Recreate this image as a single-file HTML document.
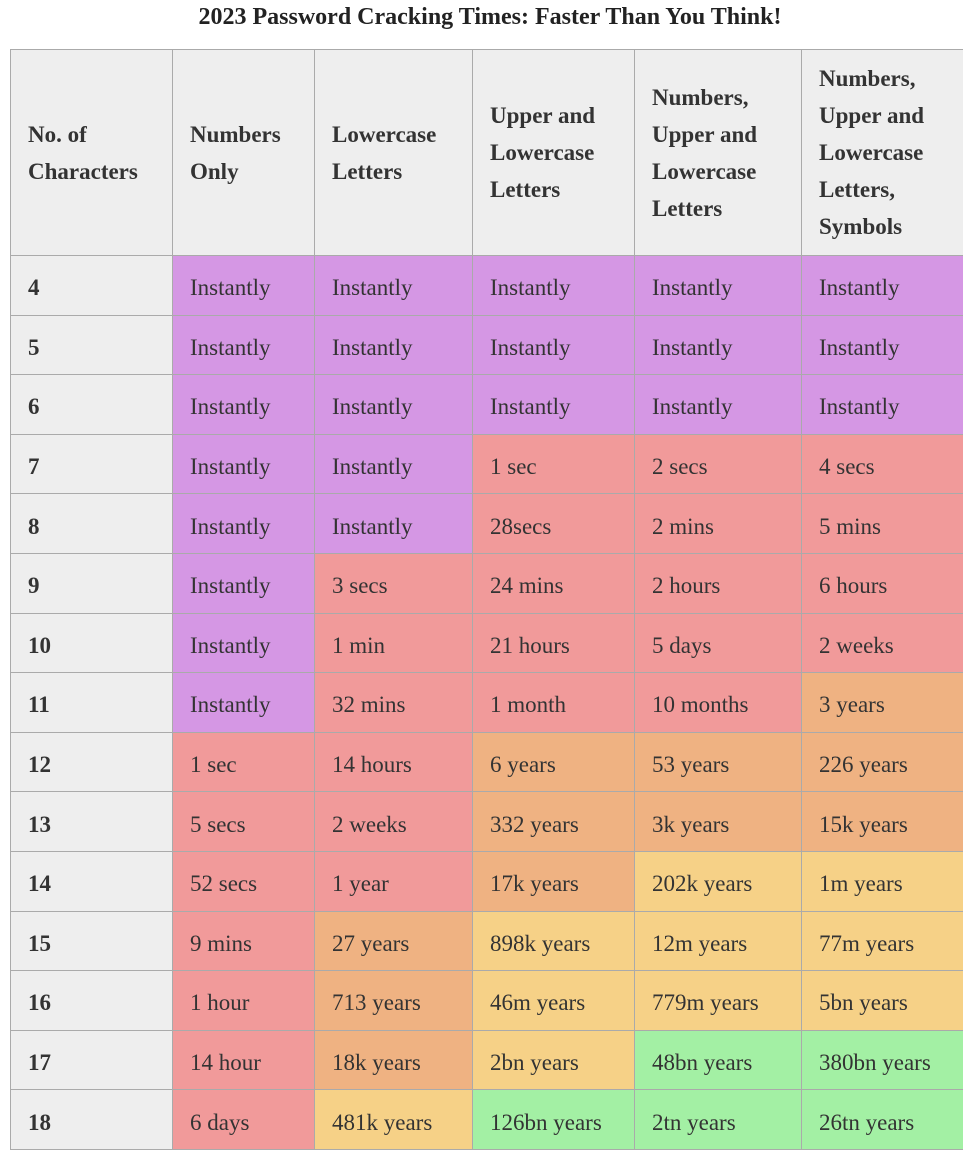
<!DOCTYPE html>
<html><head><meta charset="utf-8"><style>
body{margin:0;background:#fff;width:963px;height:1149px;overflow:hidden;font-family:"Liberation Serif",serif;color:#333}
h1{position:absolute;top:4px;left:0;width:980px;text-align:center;margin:0;font-size:24px;font-weight:bold;color:#222}
table{position:absolute;left:10px;top:49px;border-collapse:collapse;table-layout:fixed;width:960px}
td,th{border:1px solid #aaa;padding:0 0 0 17px;font-size:23px;text-align:left;vertical-align:middle;box-sizing:border-box}
th{background:#eee;font-weight:bold;height:206px;line-height:37px;color:#333}
td{padding-top:6px;height:59.6px}
td.n{background:#eee;font-weight:bold}
.P{background:#d597e4}.R{background:#f19a9a}.O{background:#efb282}.Y{background:#f6d187}.G{background:#a3f0a4}
</style></head><body>
<h1>2023 Password Cracking Times: Faster Than You Think!</h1>
<table>
<colgroup><col style="width:162px"><col style="width:142px"><col style="width:158px"><col style="width:162px"><col style="width:167px"><col style="width:169px"></colgroup>
<tr><th>No. of<br>Characters</th><th>Numbers<br>Only</th><th>Lowercase<br>Letters</th><th>Upper and<br>Lowercase<br>Letters</th><th>Numbers,<br>Upper and<br>Lowercase<br>Letters</th><th>Numbers,<br>Upper and<br>Lowercase<br>Letters,<br>Symbols</th></tr>
<tr><td class="n">4</td><td class="P">Instantly</td><td class="P">Instantly</td><td class="P">Instantly</td><td class="P">Instantly</td><td class="P">Instantly</td></tr>
<tr><td class="n">5</td><td class="P">Instantly</td><td class="P">Instantly</td><td class="P">Instantly</td><td class="P">Instantly</td><td class="P">Instantly</td></tr>
<tr><td class="n">6</td><td class="P">Instantly</td><td class="P">Instantly</td><td class="P">Instantly</td><td class="P">Instantly</td><td class="P">Instantly</td></tr>
<tr><td class="n">7</td><td class="P">Instantly</td><td class="P">Instantly</td><td class="R">1 sec</td><td class="R">2 secs</td><td class="R">4 secs</td></tr>
<tr><td class="n">8</td><td class="P">Instantly</td><td class="P">Instantly</td><td class="R">28secs</td><td class="R">2 mins</td><td class="R">5 mins</td></tr>
<tr><td class="n">9</td><td class="P">Instantly</td><td class="R">3 secs</td><td class="R">24 mins</td><td class="R">2 hours</td><td class="R">6 hours</td></tr>
<tr><td class="n">10</td><td class="P">Instantly</td><td class="R">1 min</td><td class="R">21 hours</td><td class="R">5 days</td><td class="R">2 weeks</td></tr>
<tr><td class="n">11</td><td class="P">Instantly</td><td class="R">32 mins</td><td class="R">1 month</td><td class="R">10 months</td><td class="O">3 years</td></tr>
<tr><td class="n">12</td><td class="R">1 sec</td><td class="R">14 hours</td><td class="O">6 years</td><td class="O">53 years</td><td class="O">226 years</td></tr>
<tr><td class="n">13</td><td class="R">5 secs</td><td class="R">2 weeks</td><td class="O">332 years</td><td class="O">3k years</td><td class="O">15k years</td></tr>
<tr><td class="n">14</td><td class="R">52 secs</td><td class="R">1 year</td><td class="O">17k years</td><td class="Y">202k years</td><td class="Y">1m years</td></tr>
<tr><td class="n">15</td><td class="R">9 mins</td><td class="O">27 years</td><td class="Y">898k years</td><td class="Y">12m years</td><td class="Y">77m years</td></tr>
<tr><td class="n">16</td><td class="R">1 hour</td><td class="O">713 years</td><td class="Y">46m years</td><td class="Y">779m years</td><td class="Y">5bn years</td></tr>
<tr><td class="n">17</td><td class="R">14 hour</td><td class="O">18k years</td><td class="Y">2bn years</td><td class="G">48bn years</td><td class="G">380bn years</td></tr>
<tr><td class="n">18</td><td class="R">6 days</td><td class="Y">481k years</td><td class="G">126bn years</td><td class="G">2tn years</td><td class="G">26tn years</td></tr>
</table>
</body></html>
